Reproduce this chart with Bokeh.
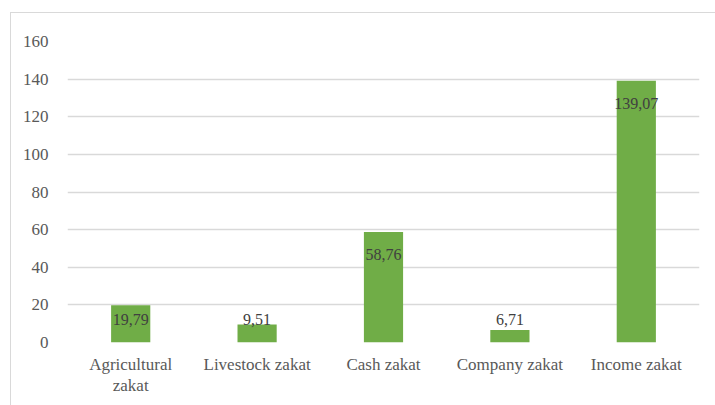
from bokeh.plotting import figure
from bokeh.models import ColumnDataSource, Range1d, FixedTicker
from bokeh.core.properties import value
from bokeh.embed import file_html
from bokeh.resources import INLINE

categories = ["Agricultural\nzakat", "Livestock zakat", "Cash zakat", "Company zakat", "Income zakat"]
values = [19.79, 9.51, 58.76, 6.71, 139.07]
labels = ["19,79", "9,51", "58,76", "6,71", "139,07"]
y_ticks = [0, 20, 40, 60, 80, 100, 120, 140, 160]

FONT = "Liberation Serif"
BAR = "#70ad47"
GRID = "#d9d9d9"
TICK_COLOR = "#595959"

xs = list(range(len(categories)))

W, H = 705, 393
TOP, BOTTOM, LEFT, RIGHT = 28, 64, 56, 17
p = figure(x_range=Range1d(-0.5, len(categories) - 0.5), y_range=Range1d(0, 160), width=W, height=H,
           output_backend="svg", toolbar_location=None,
           min_border_left=LEFT, min_border_right=RIGHT, min_border_top=TOP, min_border_bottom=BOTTOM)
p.margin = (12, 0, 0, 10)
p.styles = {"border-left": "1px solid #d9d9d9", "border-top": "1px solid #d9d9d9"}
p.outline_line_color = None
p.background_fill_color = "white"
p.border_fill_color = "white"

p.vbar(x=xs, top=values, width=0.31, color=BAR, line_color=None)

# label placement: "inside end", but never lower than a label's height above the baseline
frame_h = H - TOP - BOTTOM
ppu = frame_h / 160.0
ly = [max(v - 23 / ppu, 23 / ppu) for v in values]
src = ColumnDataSource(dict(x=xs, y=ly, t=labels))
p.text(x="x", y="y", text="t", source=src, text_align="center", text_baseline="middle",
       text_font=value(FONT), text_font_size="16px", text_color="#404040")

p.xgrid.visible = False
p.ygrid.grid_line_color = GRID
p.ygrid.grid_line_width = 1.5
p.ygrid.ticker = FixedTicker(ticks=y_ticks)

p.yaxis.ticker = FixedTicker(ticks=y_ticks)
p.yaxis.axis_line_color = None
p.yaxis.major_tick_line_color = None
p.yaxis.minor_tick_line_color = None
p.yaxis.major_label_standoff = 13
p.yaxis.major_label_text_font = FONT
p.yaxis.major_label_text_font_size = "17px"
p.yaxis.major_label_text_color = TICK_COLOR

p.xaxis.ticker = FixedTicker(ticks=xs)
p.xaxis.axis_line_color = None
p.xaxis.major_tick_line_color = None
p.xaxis.minor_tick_line_color = None
p.xaxis.major_label_standoff = 6
p.xaxis.major_label_text_font = FONT
p.xaxis.major_label_text_font_size = "17px"
p.xaxis.major_label_text_color = TICK_COLOR
p.xaxis.major_label_text_line_height = 1.15
p.xaxis.major_label_overrides = {i: c for i, c in zip(xs, categories)}

open("out.html", "w").write(file_html(p, INLINE))
